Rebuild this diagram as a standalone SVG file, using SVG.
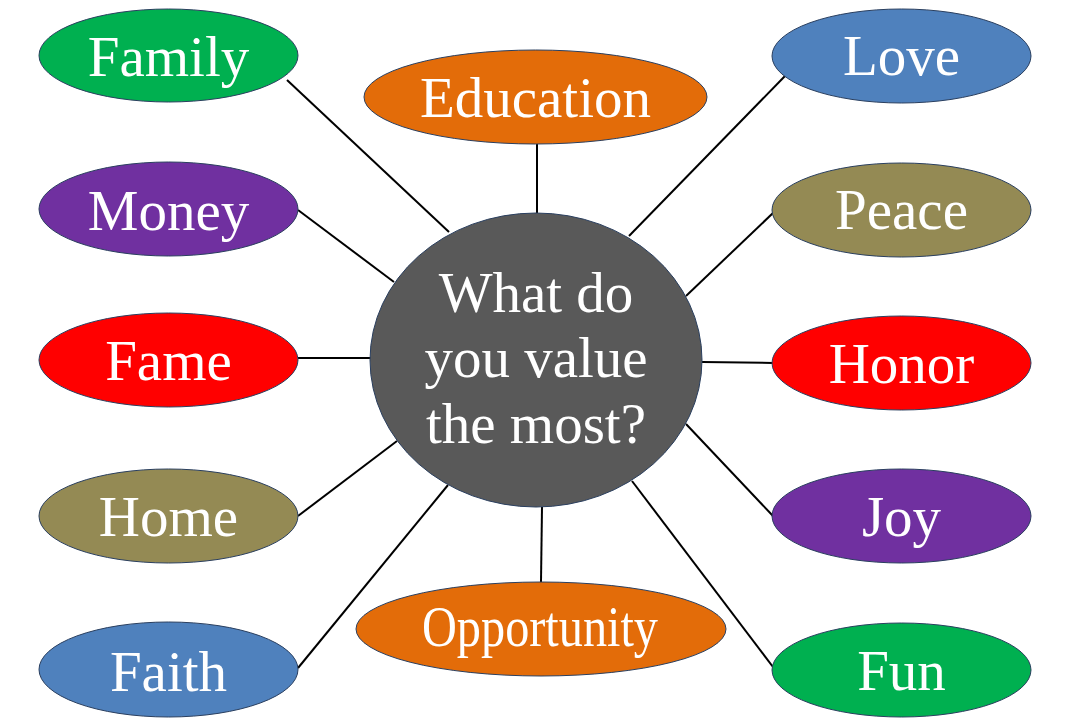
<svg xmlns="http://www.w3.org/2000/svg" width="1076" height="725" viewBox="0 0 1076 725">
<style>
.n{stroke:#2a3f5f;stroke-width:1}
.t{font-family:"Liberation Serif","Times New Roman",serif;fill:#ffffff;text-anchor:middle;font-size:57px}
.c line{stroke:#000000;stroke-width:2}
.green{fill:#00B050}.blue{fill:#4F81BD}.purple{fill:#7030A0}.red{fill:#FF0000}.olive{fill:#948A54}.orange{fill:#E36C09}.gray{fill:#595959}
</style>
<rect width="1076" height="725" fill="#ffffff"/>
<g id="connectors" class="c">
<line x1="287" y1="80" x2="449" y2="232"/>
<line x1="298" y1="210" x2="394" y2="282"/>
<line x1="298" y1="358" x2="371" y2="358"/>
<line x1="298" y1="516" x2="397" y2="441"/>
<line x1="298" y1="668" x2="448" y2="485"/>
<line x1="537" y1="144" x2="537" y2="213"/>
<line x1="541" y1="582" x2="542" y2="507"/>
<line x1="785" y1="76" x2="629" y2="236"/>
<line x1="773" y1="213" x2="686" y2="296"/>
<line x1="702" y1="362" x2="773" y2="363"/>
<line x1="773" y1="516" x2="686" y2="424"/>
<line x1="773" y1="667" x2="632" y2="481"/>
</g>
<g id="center"><ellipse class="n gray" cx="536" cy="360" rx="166" ry="147"/>
<text class="t" x="536" y="312" font-size="51">What do</text>
<text class="t" x="536" y="377" font-size="51">you value</text>
<text class="t" x="536" y="443" font-size="51">the most?</text></g>
<g id="family"><ellipse class="n green" cx="168.5" cy="55.5" rx="129.5" ry="46.5"/><text class="t" x="168.5" y="76">Family</text></g>
<g id="money"><ellipse class="n purple" cx="168.5" cy="209" rx="129.5" ry="47"/><text class="t" x="168.5" y="230">Money</text></g>
<g id="fame"><ellipse class="n red" cx="168.5" cy="360" rx="129.5" ry="47"/><text class="t" x="168.5" y="380">Fame</text></g>
<g id="home"><ellipse class="n olive" cx="168.5" cy="516" rx="129.5" ry="47"/><text class="t" x="168.5" y="536">Home</text></g>
<g id="faith"><ellipse class="n blue" cx="168.5" cy="669.5" rx="129.5" ry="47.5"/><text class="t" x="168.5" y="691">Faith</text></g>
<g id="education"><ellipse class="n orange" cx="535.5" cy="97" rx="171.5" ry="47"/><text class="t" x="535.5" y="117" font-size="52">Education</text></g>
<g id="opportunity"><ellipse class="n orange" cx="541" cy="629" rx="185" ry="47"/><text class="t" x="540" y="646" font-size="47" textLength="236" lengthAdjust="spacingAndGlyphs">Opportunity</text></g>
<g id="love"><ellipse class="n blue" cx="901.5" cy="56" rx="129.5" ry="47"/><text class="t" x="901.5" y="75">Love</text></g>
<g id="peace"><ellipse class="n olive" cx="901.5" cy="210" rx="129.5" ry="47"/><text class="t" x="901.5" y="229">Peace</text></g>
<g id="honor"><ellipse class="n red" cx="901.5" cy="363" rx="129.5" ry="47"/><text class="t" x="901.5" y="383">Honor</text></g>
<g id="joy"><ellipse class="n purple" cx="901.5" cy="516" rx="129.5" ry="47"/><text class="t" x="901.5" y="536">Joy</text></g>
<g id="fun"><ellipse class="n green" cx="901.5" cy="670" rx="129.5" ry="47"/><text class="t" x="901.5" y="690">Fun</text></g>
</svg>
